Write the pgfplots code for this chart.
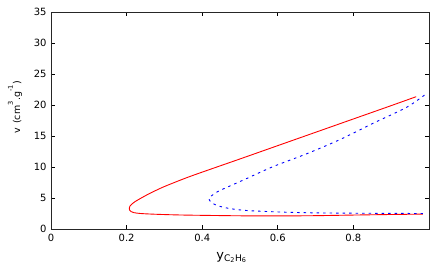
\documentclass[border=0pt]{standalone}
\usepackage{pgfplots}
\pgfplotsset{compat=1.18}
\usepackage{fontspec}
\setmainfont{DejaVu Sans}
\begin{document}
\begin{tikzpicture}
\path[use as bounding box] (-51bp,-43bp) rectangle (389bp,229bp);
\begin{axis}[
  scale only axis,
  width=378bp, height=217bp,
  xmin=0, xmax=1, ymin=0, ymax=35,
  xtick={0,0.2,0.4,0.6,0.8},
  ytick={0,5,10,15,20,25,30,35},
  tick align=inside,
  major tick length=4bp,
  tick style={black, line width=0.8pt},
  axis line style={black!85, line width=0.9pt},
  /pgf/number format/assume math mode=true,
  tick label style={font=\fontsize{10}{12}\selectfont, black},
  xticklabel style={yshift=-2bp},
  yticklabel style={xshift=-1bp},
  xlabel={$\mathrm{y}_{\mathrm{C_2H_6}}$},
  xlabel style={at={(axis description cs:0.478,0)}, anchor=north, yshift=-20bp, font=\fontsize{13}{15}\selectfont},
  ylabel={v\, (cm\textsuperscript{3}.g\textsuperscript{-1})},
  ylabel style={at={(axis description cs:-0.0952,0.56)}, anchor=center, font=\fontsize{9.5}{11}\selectfont},
  clip=false,
]
\addplot[red, line width=0.9pt, smooth, tension=0.5] coordinates {
(0.966,21.34) (0.9,19.9) (0.8,17.75) (0.7,15.6) (0.6,13.45) (0.5,11.3) (0.42,9.6) (0.36,8.3) (0.3,6.85) (0.27,6.0) (0.25,5.38) (0.233,4.8) (0.222,4.4) (0.214,4.02) (0.209,3.7) (0.207,3.35) (0.208,3.05) (0.212,2.8) (0.22,2.63) (0.235,2.51) (0.26,2.42) (0.3,2.33) (0.36,2.24) (0.5,2.13) (0.6,2.11) (0.7,2.15) (0.8,2.25) (0.9,2.34) (0.984,2.4)
};
\addplot[blue, line width=0.9pt, dash pattern=on 2.5bp off 4bp, smooth, tension=0.5] coordinates {
(0.988,21.6) (0.94,19.6) (0.852,17.05) (0.7635,14.4) (0.675,12.1) (0.587,10.05) (0.5126,8.0) (0.4465,6.2) (0.43,5.6) (0.421,5.15) (0.418,4.8) (0.422,4.4) (0.435,3.9) (0.46,3.45) (0.49,3.15) (0.526,2.95) (0.614,2.72) (0.7,2.6) (0.8,2.55) (0.9,2.52) (0.984,2.5)
};
\end{axis}
\end{tikzpicture}
\end{document}
